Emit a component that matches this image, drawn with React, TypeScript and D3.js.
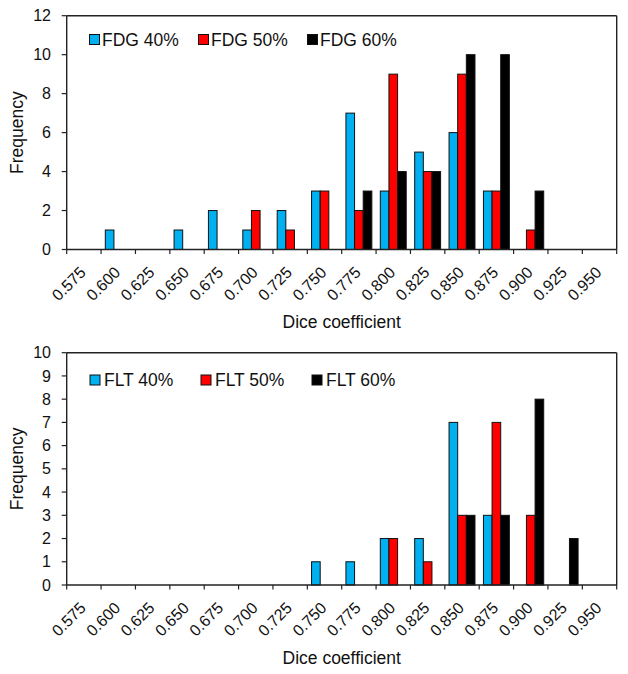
import React from "react";
import * as d3 from "d3";

const categories = ["0.575","0.600","0.625","0.650","0.675","0.700","0.725","0.750","0.775","0.800","0.825","0.850","0.875","0.900","0.925","0.950"];
const fdg40 = [0,1,0,1,2,1,2,3,7,3,5,6,3,0,0,0];
const fdg50 = [0,0,0,0,0,2,1,3,2,9,4,9,3,1,0,0];
const fdg60 = [0,0,0,0,0,0,0,0,3,4,4,10,10,3,0,0];
const flt40 = [0,0,0,0,0,0,0,1,1,2,2,7,3,0,0,0];
const flt50 = [0,0,0,0,0,0,0,0,0,2,1,3,7,3,0,0];
const flt60 = [0,0,0,0,0,0,0,0,0,0,0,3,3,8,2,0];
const fdgNames = ["FDG 40%","FDG 50%","FDG 60%"];
const fltNames = ["FLT 40%","FLT 50%","FLT 60%"];
const fdgYTicks = [0,2,4,6,8,10,12];
const fltYTicks = [0,1,2,3,4,5,6,7,8,9,10];
const colors = ["#00B0F0","#FF0000","#000000"];
const FONT = "Arial, 'Liberation Sans', sans-serif";

type ChartProps = {
  top: number; bottom: number; names: string[]; series: number[][]; yTicks: number[];
  legendX: number; legendStep: number; legendTextGap: number; legendY: number;
};

function Chart({ top, bottom, names, series, yTicks, legendX, legendStep, legendTextGap, legendY }: ChartProps) {
  const left = 66.7, right = 616.7;
  const x = d3.scaleBand<string>().domain(categories).range([left, right]).padding(0);
  const inner = d3.scaleBand<number>().domain([0,1,2]).range([0, x.bandwidth()]).paddingInner(0).paddingOuter(0.49);
  const y = d3.scaleLinear().domain([0, yTicks[yTicks.length-1]]).range([bottom, top]);
  const tickEdges = categories.map((c) => x(c)!).concat([right]);
  return (
    <g>
      {series.map((s, si) => s.map((v, ci) => v > 0 ? (
        <rect key={`${si}-${ci}`} x={x(categories[ci])! + inner(si)!} y={y(v)} width={inner.bandwidth()} height={y(0)-y(v)}
          fill={colors[si]} stroke="#111" strokeWidth={1} />
      ) : null))}
      {/* border */}
      <line x1={left} x2={right} y1={top} y2={top} stroke="#222" strokeWidth={1.4} />
      <line x1={right} x2={right} y1={top} y2={bottom} stroke="#222" strokeWidth={1.4} />
      <line x1={left} x2={left} y1={top} y2={bottom} stroke="#222" strokeWidth={1.4} />
      <line x1={left} x2={right} y1={bottom} y2={bottom} stroke="#222" strokeWidth={1.4} />
      {yTicks.map((t) => (
        <g key={t}>
          <line x1={left-5} x2={left} y1={y(t)} y2={y(t)} stroke="#222" strokeWidth={1.2} />
          <text x={51} y={y(t)} dy="0.35em" textAnchor="end" fontSize={16} fontFamily={FONT} fill="#111">{t}</text>
        </g>
      ))}
      {tickEdges.map((tx, i) => (
        <line key={i} x1={tx} x2={tx} y1={bottom} y2={bottom+4.5} stroke="#222" strokeWidth={1.2} />
      ))}
      {categories.map((c) => {
        const cx = x(c)! + x.bandwidth()/2 + 3;
        const cy = bottom + 24;
        return (
          <text key={c} transform={`translate(${cx},${cy}) rotate(-45)`} textAnchor="end" fontSize={16} fontFamily={FONT} fill="#111">{c}</text>
        );
      })}
      <text transform={`translate(23,${(top+bottom)/2}) rotate(-90)`} textAnchor="middle" fontSize={17.5} fontFamily={FONT} fill="#111">Frequency</text>
      <text x={(left+right)/2} y={bottom+78.5} textAnchor="middle" fontSize={17.5} fontFamily={FONT} fill="#111">Dice coefficient</text>
      {names.map((n, i) => (
        <g key={n}>
          <rect x={legendX + i*legendStep} y={legendY-5} width={10} height={10} fill={colors[i]} stroke="#111" strokeWidth={1} />
          <text x={legendX + i*legendStep + legendTextGap} y={legendY} dy="0.35em" fontSize={17.5} fontFamily={FONT} fill="#111">{n}</text>
        </g>
      ))}
    </g>
  );
}

export default function App() {
  return (
    <svg width={628} height={674} style={{ position: "absolute", left: 0, top: 0, background: "#fff" }}>
      <rect width={628} height={674} fill="#fff" />
      <Chart top={15.7} bottom={249.5} names={fdgNames} series={[fdg40, fdg50, fdg60]} yTicks={fdgYTicks}
        legendX={89.5} legendStep={109} legendTextGap={12.5} legendY={39.5} />
      <Chart top={352.7} bottom={585} names={fltNames} series={[flt40, flt50, flt60]} yTicks={fltYTicks}
        legendX={90} legendStep={111} legendTextGap={14} legendY={380} />
    </svg>
  );
}
